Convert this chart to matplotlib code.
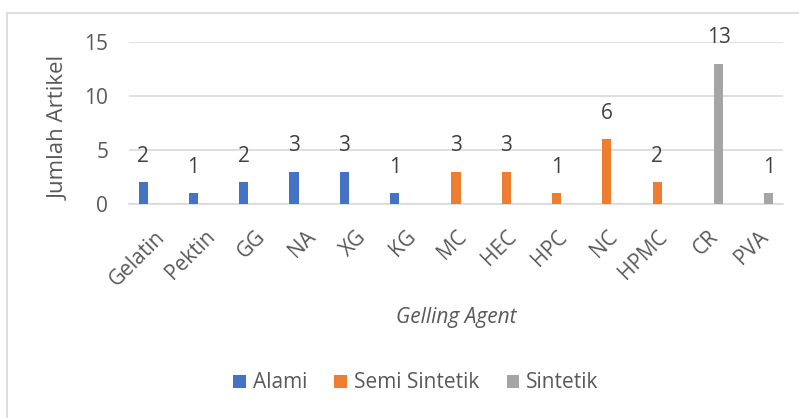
import numpy as np
import matplotlib.pyplot as plt
from matplotlib.patches import Rectangle

plt.rcParams['font.family'] = ['Open Sans', 'DejaVu Sans']

# data
agents = ['Gelatin', 'Pektin', 'GG', 'NA', 'XG', 'KG', 'MC', 'HEC', 'HPC', 'NC', 'HPMC', 'CR', 'PVA']
alami = [2, 1, 2, 3, 3, 1, 0, 0, 0, 0, 0, 0, 0]
semi_sintetik = [0, 0, 0, 0, 0, 0, 3, 3, 1, 6, 2, 0, 0]
sintetik = [0, 0, 0, 0, 0, 0, 0, 0, 0, 0, 0, 13, 1]

txt = '#595959'
fig = plt.figure(figsize=(7.99, 4.18), dpi=100)
fig.patches.append(Rectangle((7/799, -0.1), 1.2, 1 - 13/418 + 0.1, transform=fig.transFigure,
                             fill=False, edgecolor='#d9d9d9', linewidth=1.2))
ax = fig.add_axes([129/799, 1 - 204/418, 654/799, 162/418])

x = np.arange(len(agents))
w = 0.18
series = [(alami, -0.22, '#4472C4', 'Alami'),
          (semi_sintetik, 0, '#ED7D31', 'Semi Sintetik'),
          (sintetik, 0.22, '#A5A5A5', 'Sintetik')]
for vals, off, col, lab in series:
    bars = ax.bar(x + off, vals, w, color=col, label=lab, zorder=3)
    labels = [str(v) if v > 0 else '' for v in vals]
    ax.bar_label(bars, labels=labels, padding=11, fontsize=15, color='#404040')

ax.set_xlim(-0.5, len(agents) - 0.5)
ax.set_ylim(0, 15)
ax.set_yticks([0, 5, 10, 15])
ax.yaxis.grid(True, color='#d9d9d9', linewidth=1.2, zorder=0)
for s in ['top', 'right', 'left']:
    ax.spines[s].set_visible(False)
ax.spines['bottom'].set_color('#d9d9d9')
ax.spines['bottom'].set_linewidth(1.2)
ax.tick_params(length=0, labelsize=15, colors=txt)
ax.tick_params(axis='y', pad=15)
ax.tick_params(axis='x', pad=16)
ax.set_xticks(x)
ax.set_xticklabels(agents, rotation=45, ha='right', rotation_mode='anchor')
ax.set_ylabel('Jumlah Artikel', fontsize=16, color=txt, va='center')
ax.yaxis.set_label_coords(59/799, 1 - 128/418, transform=fig.transFigure)
ax.set_xlabel('Gelling Agent', fontsize=15, color=txt, style='italic', labelpad=12)
ax.legend(loc='center', bbox_to_anchor=(416/799, 1 - 383/418), bbox_transform=fig.transFigure,
          ncol=3, frameon=False, fontsize=15, labelcolor=txt, handlelength=0.6, handleheight=0.6,
          handletextpad=0.35, columnspacing=1.3)

fig.savefig('out.png', dpi=100)
